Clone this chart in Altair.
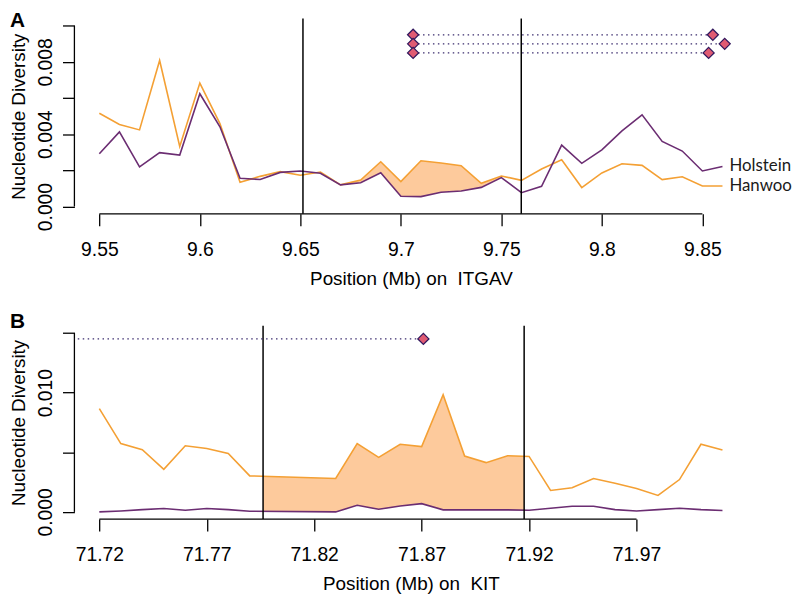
import json
import altair as alt
import numpy as np
import pandas as pd

# ---------------- data ----------------
# Panel A: ITGAV region
pos_a = [9.55, 9.56, 9.57, 9.58, 9.59, 9.60, 9.61, 9.62, 9.63, 9.64, 9.65,
         9.66, 9.67, 9.68, 9.69, 9.70, 9.71, 9.72, 9.73, 9.74, 9.75,
         9.76, 9.77, 9.78, 9.79, 9.80, 9.81, 9.82, 9.83, 9.84, 9.85, 9.86]
hanwoo_a = [0.00516, 0.00454, 0.00424, 0.00808, 0.00332, 0.00683, 0.00459, 0.00134, 0.00167, 0.00193, 0.00173,
            0.00191, 0.00120, 0.00147, 0.00248, 0.00138, 0.00253, 0.00241, 0.00226, 0.00129, 0.00169,
            0.00145, 0.00208, 0.00259, 0.00105, 0.00186, 0.00237, 0.00228, 0.00149, 0.00165, 0.00114, 0.00114]
holstein_a = [0.00292, 0.00413, 0.00220, 0.00298, 0.00285, 0.00624, 0.00441, 0.00156, 0.00150, 0.00189, 0.00197,
              0.00184, 0.00120, 0.00132, 0.00187, 0.00057, 0.00055, 0.00079, 0.00086, 0.00106, 0.00160,
              0.00077, 0.00112, 0.00340, 0.00239, 0.00314, 0.00419, 0.00507, 0.00360, 0.00307, 0.00197, 0.00222]
gene_a = [9.6513, 9.7599]
fill_range_a = [9.66, 9.75]
pair_left_a = [9.7061, 9.7061, 9.7061]
pair_right_a = [9.8552, 9.8611, 9.8531]
pair_level_a = [0.0095, 0.0090, 0.0085]
xticks_a = [9.55, 9.60, 9.65, 9.70, 9.75, 9.80, 9.85]
yticks_a = [0.000, 0.002, 0.004, 0.006, 0.008, 0.010]
ylabels_a = ["0.000", "0.004", "0.008"]
ylim_a = [0.0, 0.010]

# Panel B: KIT region
pos_b = [71.72, 71.73, 71.74, 71.75, 71.76, 71.77, 71.78, 71.79,
         71.83, 71.84, 71.85, 71.86, 71.87, 71.88, 71.89, 71.90, 71.91, 71.92,
         71.93, 71.94, 71.95, 71.96, 71.97, 71.98, 71.99, 72.00, 72.01]
hanwoo_b = [0.00866, 0.00573, 0.00521, 0.00357, 0.00554, 0.00532, 0.00490, 0.00302,
            0.00280, 0.00573, 0.00457, 0.00567, 0.00548, 0.00983, 0.00468, 0.00413, 0.00471, 0.00465,
            0.00180, 0.00202, 0.00280, 0.00241, 0.00197, 0.00138, 0.00271, 0.00567, 0.00518]
holstein_b = [0.00000, 0.00008, 0.00019, 0.00028, 0.00014, 0.00028, 0.00019, 0.00006,
              0.00000, 0.00055, 0.00022, 0.00050, 0.00069, 0.00017, 0.00017, 0.00017, 0.00017, 0.00014,
              0.00030, 0.00047, 0.00047, 0.00019, 0.00008, 0.00019, 0.00030, 0.00019, 0.00012]
gene_b = [71.7962, 71.9177]
pair_left_b = [71.65]
pair_right_b = [71.8708]
pair_level_b = [0.0145]
xticks_b = [71.72, 71.77, 71.82, 71.87, 71.92, 71.97]
yticks_b = [0.000, 0.005, 0.010, 0.015]
ylabels_b = ["0.000", "0.010"]
ylim_b = [0.0, 0.015]

breeds = ["Hanwoo", "Holstein"]

# ---------------- style ----------------
ORANGE = "#f4a034"
PURPLE = "#6b2d72"
FILL = "#fdca9c"
DIAMOND_FILL = "#e05b73"
DIAMOND_STROKE = "#33195e"
DOT = "#3b2c6e"
FONT = "Liberation Sans"
W = 679


def panel(letter, pos, han, hol, gene, fill_df, pairs_df, pts_df, xticks, yticks,
          ylabels, ylim, xtitle, H, letter_y, end_labels):
    span = max(pos) - min(pos)
    xs = alt.Scale(domain=[min(pos) - 0.04 * span, max(pos) + 0.04 * span], nice=False, zero=False)
    yspan = ylim[1] - ylim[0]
    ys = alt.Scale(domain=[ylim[0] - 0.04 * yspan, ylim[1] + 0.04 * yspan], nice=False, zero=False)

    df = pd.DataFrame({"pos": pos, "Hanwoo": han, "Holstein": hol})
    long = df.melt("pos", var_name="breed", value_name="pi")

    label_expr = "indexof(" + json.dumps(ylabels) + ", datum.label) >= 0 ? datum.label : ''"
    xaxis = alt.Axis(values=xticks, format=".2~f", domain=False, grid=False, tickSize=12,
                     tickWidth=1.3, tickColor="black", labelFontSize=19.5, labelColor="black",
                     labelFont=FONT, labelPadding=15, labelBaseline="top", labelFlush=False,
                     labelOverlap=False, title=xtitle, titleFont=FONT, titleFontSize=19,
                     titleFontWeight="normal", titleColor="black", titleY=71,
                     titleBaseline="alphabetic")
    yaxis = alt.Axis(values=yticks, format=".3f", labelExpr=label_expr, domain=False, grid=False,
                     tickSize=12, tickWidth=1.3, tickColor="black", labelFontSize=19.5,
                     labelColor="black", labelFont=FONT, labelAngle=270, labelAlign="center",
                     labelBaseline="alphabetic", labelPadding=11, labelFlush=False,
                     labelOverlap=False, title="Nucleotide Diversity", titleFont=FONT,
                     titleFontSize=19, titleFontWeight="normal", titleColor="black",
                     titleX=-46, titleAngle=270, titleBaseline="bottom")

    def X(f):
        return alt.X(f, scale=xs, axis=xaxis)

    def Y(f):
        return alt.Y(f, scale=ys, axis=yaxis)

    fill = alt.Chart(fill_df).mark_area(color=FILL, opacity=1).encode(
        x=X("x:Q"), y=Y("y:Q"), y2="y2:Q",
    )
    lines = alt.Chart(long).mark_line(strokeWidth=1.6).encode(
        x=X("pos:Q"), y=Y("pi:Q"),
        color=alt.Color("breed:N", scale=alt.Scale(domain=breeds, range=[ORANGE, PURPLE]), legend=None),
    )
    vlines = alt.Chart(pd.DataFrame({"g": gene})).mark_rule(color="black", strokeWidth=1.5).encode(
        x=X("g:Q"), y=alt.value(0), y2=alt.value(H)
    )
    xline = alt.Chart(pd.DataFrame({"a": [min(xticks)], "b": [max(xticks)]})).mark_rule(
        color="black", strokeWidth=1.3).encode(x=X("a:Q"), x2="b:Q", y=alt.value(H))
    yline = alt.Chart(pd.DataFrame({"a": [min(yticks)], "b": [max(yticks)]})).mark_rule(
        color="black", strokeWidth=1.3).encode(y=Y("a:Q"), y2="b:Q", x=alt.value(0))
    dots = alt.Chart(pairs_df).mark_rule(color=DOT, strokeWidth=1.3, strokeDash=[1.5, 3.5],
                                         clip=True).encode(x=X("x:Q"), x2="x2:Q", y=Y("y:Q"))
    diamonds = alt.Chart(pts_df).mark_point(shape="diamond", filled=True, fill=DIAMOND_FILL,
                                            stroke=DIAMOND_STROKE, strokeWidth=1.3, size=125,
                                            opacity=1, clip=True).encode(x=X("x:Q"), y=Y("y:Q"))
    letter_mark = alt.Chart(pd.DataFrame({"t": [letter]})).mark_text(
        align="left", baseline="alphabetic", font=FONT, fontSize=21, fontWeight="bold",
        color="black").encode(x=alt.value(-65), y=alt.value(letter_y), text="t:N")

    layers = [fill, lines, vlines, xline, yline, dots, diamonds, letter_mark]
    if end_labels:
        lab = pd.DataFrame({"x": [pos[-1], pos[-1]], "y": [hol[-1], han[-1]], "t": ["Holstein", "Hanwoo"]})
        layers.append(alt.Chart(lab).mark_text(align="left", baseline="middle", dx=7, font="Lato",
                                               fontSize=17, color="#1a1a1a").encode(
            x=X("x:Q"), y=Y("y:Q"), text="t:N"))
    return alt.layer(*layers).properties(width=W, height=H)


# fill A: Hanwoo above Holstein inside the shaded window
fa = [(p, h, min(h, o)) for p, h, o in zip(pos_a, hanwoo_a, holstein_a)
      if fill_range_a[0] <= p <= fill_range_a[1]]
fill_a = pd.DataFrame(fa, columns=["x", "y", "y2"])

# fill B: between the two gene boundary lines
inner = [p for p in pos_b if gene_b[0] < p < gene_b[1]]
fx = [gene_b[0]] + inner + [gene_b[1]]
fill_b = pd.DataFrame({"x": fx, "y": np.interp(fx, pos_b, hanwoo_b), "y2": np.interp(fx, pos_b, holstein_b)})

pairs_a = pd.DataFrame({"x": pair_left_a, "x2": pair_right_a, "y": pair_level_a})
pts_a = pd.DataFrame({"x": pair_left_a + pair_right_a, "y": pair_level_a + pair_level_a})
pairs_b = pd.DataFrame({"x": pair_left_b, "x2": pair_right_b, "y": pair_level_b})
pts_b = pd.DataFrame({"x": pair_left_b + pair_right_b, "y": pair_level_b + pair_level_b})

chart_a = panel("A", pos_a, hanwoo_a, holstein_a, gene_a, fill_a, pairs_a, pts_a, xticks_a, yticks_a,
                ylabels_a, ylim_a, "Position (Mb) on\u00a0 ITGAV", 197, 9, True)
chart_b = panel("B", pos_b, hanwoo_b, holstein_b, gene_b, fill_b, pairs_b, pts_b, xticks_b, yticks_b,
                ylabels_b, ylim_b, "Position (Mb) on\u00a0 KIT", 195, 2, False)

chart = (
    alt.vconcat(chart_a, chart_b, spacing=113, bounds="flush")
    .properties(padding={"left": 2, "top": 0, "right": 0, "bottom": 0})
    .configure(font=FONT, background="white")
    .configure_view(stroke="transparent", strokeWidth=0)
)

chart.save("out.html", embed_options={"renderer": "svg", "actions": False})
